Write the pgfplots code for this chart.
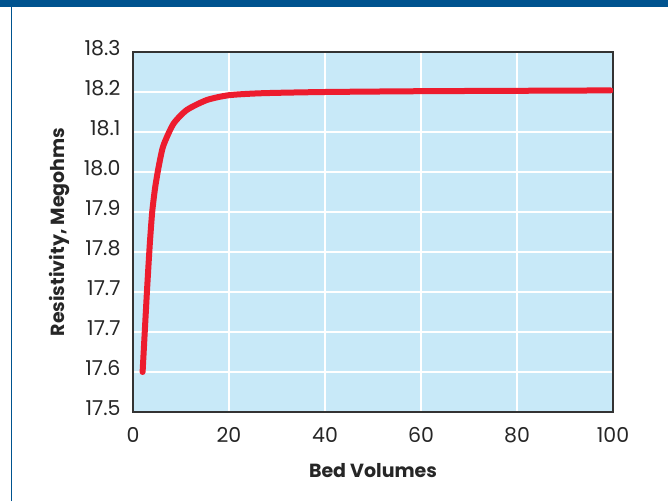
\documentclass[border=0pt]{standalone}
\usepackage{pgfplots}
\pgfplotsset{compat=1.18}
\usepackage{fontspec}
\setmainfont{Poppins}

\definecolor{bandblue}{HTML}{00538F}
\definecolor{plotbg}{HTML}{C8E9F8}
\definecolor{curvered}{HTML}{ED1C2E}

\begin{document}
\begin{tikzpicture}
  \useasboundingbox (0,0) rectangle (668pt,501pt);
  \fill[white] (0,0) rectangle (668pt,501pt);
  \fill[bandblue] (0,494pt) rectangle (668pt,501pt);
  \draw[bandblue, line width=1pt] (11.5pt,0) -- (11.5pt,494pt);

  \begin{axis}[
      at={(133pt,89pt)}, anchor=south west,
      width=480pt, height=360pt, scale only axis,
      xmin=0, xmax=100, ymin=17.4, ymax=18.3,
      xtick={0,20,...,100},
      ytick={17.4,17.5,...,18.31},
      yticklabels={17.5,17.6,17.7,17.7,17.8,17.9,18.0,18.1,18.2,18.3},
      axis background/.style={fill=plotbg},
      grid=major,
      major grid style={white, line width=1.5pt},
      axis line style={black!80, line width=1.3pt},
      major tick length=0pt,
      tick label style={font=\fontsize{20.5}{24}\selectfont, text=black!85},
      /pgf/number format/assume math mode=true,
      yticklabel style={xshift=-9pt, yshift=4pt},
      xticklabel style={yshift=-12pt},
      xlabel={\bfseries Bed Volumes},
      ylabel={\bfseries Resistivity, Megohms},
      label style={font=\fontsize{19}{22}\selectfont, text=black!85},
      xlabel style={yshift=-14pt},
      ylabel style={yshift=7.5pt},
    ]
    \addplot[curvered, line width=6pt, line cap=round, smooth, tension=0.4] coordinates {
      (2.0,17.500) (2.9,17.700) (3.5,17.820) (4.0,17.900) (4.6,17.960)
      (5.3,18.010) (6.3,18.065) (8.4,18.120) (11.2,18.155) (15.4,18.180)
      (20.0,18.192) (27.0,18.197) (40.0,18.200) (60.0,18.202) (80.0,18.203)
      (99.5,18.204)
    };
  \end{axis}
\end{tikzpicture}
\end{document}
